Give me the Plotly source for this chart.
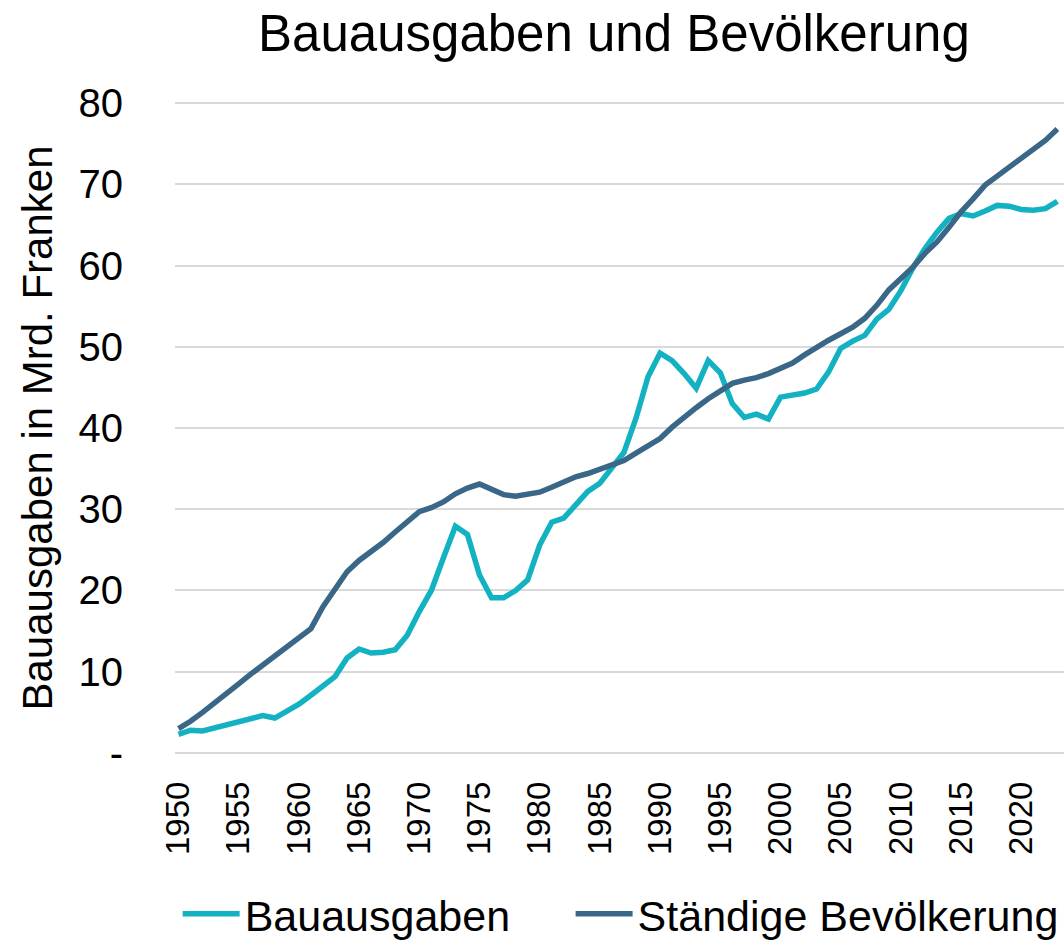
import plotly.graph_objects as go

years = list(range(1950, 2024))

bauausgaben = [
    2.3, 2.8, 2.7, 3.1, 3.4, 3.9, 4.3, 4.6, 4.3, 5.1,
    6.0, 7.1, 8.2, 9.4, 11.7, 12.8, 12.3, 12.4, 12.7, 14.5,
    17.4, 20.0, 24.0, 27.9, 26.9, 21.9, 19.1, 19.1, 20.0, 21.3,
    25.6, 28.4, 28.9, 30.5, 32.2, 33.2, 35.0, 37.0, 41.2, 46.3,
    49.2, 48.3, 46.7, 44.9, 48.3, 46.8, 43.0, 41.3, 41.7, 41.1,
    43.8, 44.0, 44.3, 44.8, 46.9, 49.8, 50.7, 51.4, 53.4, 54.6,
    56.9, 59.7, 62.1, 64.1, 65.8, 66.4, 66.1, 66.7, 67.4, 67.3,
    66.9, 66.8, 67.0, 67.9,
]

bevoelkerung = [
    3.0, 3.9, 5.0, 6.1, 7.3, 8.5, 9.7, 10.8, 11.9, 13.0,
    14.1, 15.3, 18.0, 20.3, 22.3, 23.7, 24.7, 25.9, 27.2, 28.5,
    29.7, 30.2, 30.9, 31.9, 32.6, 33.1, 32.4, 31.8, 31.6, 31.8,
    32.1, 32.7, 33.4, 34.0, 34.4, 34.9, 35.4, 36.0, 36.9, 37.8,
    38.7, 40.1, 41.4, 42.5, 43.6, 44.6, 45.5, 45.9, 46.2, 46.7,
    47.4, 48.0, 49.0, 50.0, 50.8, 51.6, 52.4, 53.5, 55.1, 57.0,
    58.4, 59.8, 61.5, 62.9, 64.7, 66.6, 68.2, 69.9, 71.0, 72.1,
    73.1, 74.2, 75.4, 76.8,
]

x_tickvals = list(range(1950, 2021, 5))
x_ticktext = [str(v) for v in x_tickvals]
y_tickvals = [0, 10, 20, 30, 40, 50, 60, 70, 80]
y_ticktext = ["-", "10", "20", "30", "40", "50", "60", "70", "80"]

series_names = ["Bauausgaben", "Ständige Bevölkerung"]
colors = ["#12B2C2", "#3A6787"]

FONT = "Liberation Sans, Arial, sans-serif"

fig = go.Figure()
fig.add_trace(go.Scatter(x=years, y=bauausgaben, mode="lines", name=series_names[0],
                         line=dict(color=colors[0], width=5.5), legend="legend"))
fig.add_trace(go.Scatter(x=years, y=bevoelkerung, mode="lines", name=series_names[1],
                         line=dict(color=colors[1], width=5.5), legend="legend2"))

legend_common = dict(orientation="h", xanchor="left", y=-0.243, yanchor="middle",
                     font=dict(size=43, family=FONT, color="black"),
                     itemwidth=57, bgcolor="rgba(0,0,0,0)")

fig.update_layout(
    width=1064, height=944,
    margin=dict(l=175, r=0, t=101, b=189, autoexpand=False),
    paper_bgcolor="white", plot_bgcolor="white",
    font=dict(family=FONT, color="black"),
    title=dict(text="Bauausgaben und Bevölkerung", x=0.577, xanchor="center",
               y=0.965, yanchor="middle", font=dict(size=51, family=FONT, color="black")),
    showlegend=True,
    legend=dict(x=0.003, **legend_common),
    legend2=dict(x=0.445, **legend_common),
)

fig.update_xaxes(
    range=[1949.71, 2023.55], automargin=False,
    tickmode="array", tickvals=x_tickvals, ticktext=x_ticktext,
    tickangle=-90, tickfont=dict(size=33, family=FONT, color="black"),
    ticklabelstandoff=19,
    showgrid=False, zeroline=False, showline=False, ticks="",
)
fig.update_yaxes(
    range=[-0.25, 80.25], automargin=False,
    tickmode="array", tickvals=y_tickvals, ticktext=y_ticktext,
    tickfont=dict(size=40, family=FONT, color="black"),
    ticklabelstandoff=51,
    showgrid=True, gridcolor="#D9D9D9", gridwidth=2,
    zeroline=False, showline=False, ticks="",
    title=dict(text="Bauausgaben in Mrd. Franken", standoff=12,
               font=dict(size=42, family=FONT, color="black")),
)

fig.write_html("out.html", config={"displayModeBar": False},
               post_script="document.body.style.margin='0';")
